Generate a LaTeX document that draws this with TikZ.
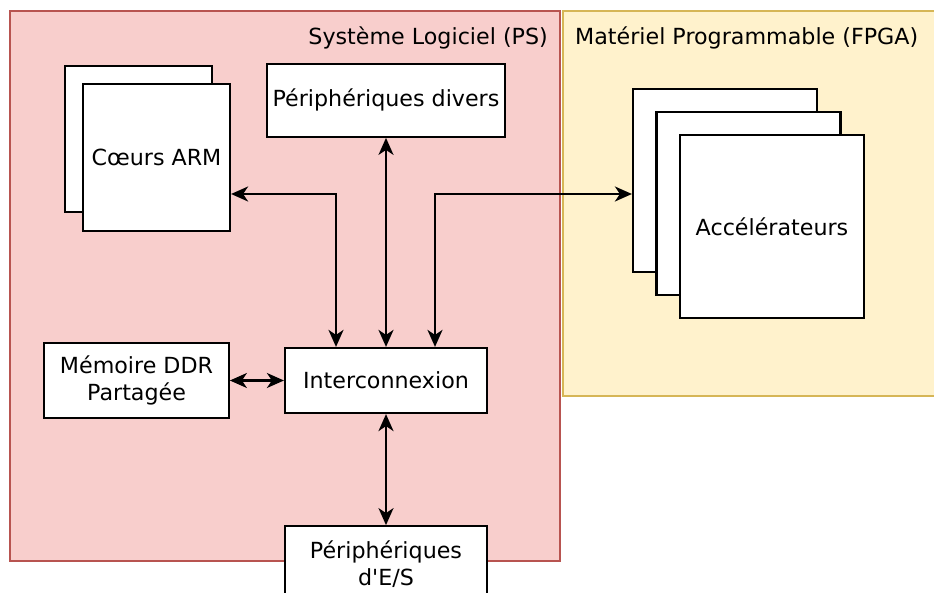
\documentclass[tikz,border=0pt]{standalone}
\usepackage{fontspec}
\setmainfont{DejaVu Sans}[Ligatures=TeXOff]
\usetikzlibrary{arrows.meta, positioning}
\definecolor{psred}{HTML}{F8CECC}
\definecolor{psredline}{HTML}{B85450}
\definecolor{fpgayellow}{HTML}{FFF2CC}
\definecolor{fpgayellowline}{HTML}{D6B656}

\begin{document}
\begin{tikzpicture}[
  x=1pt, y=-1pt,
  font=\fontsize{22.2}{27.5}\selectfont,
  region/.style={rectangle, inner sep=0pt, line width=1.6pt},
  block/.style={rectangle, draw=black, fill=white, line width=2.2pt, align=center, inner sep=0pt},
  link/.style={{Stealth[length=17pt,width=15pt,inset=5pt]}-{Stealth[length=17pt,width=15pt,inset=5pt]}, line width=2.2pt},
  title/.style={inner sep=0pt}
]
  \clip (0,0) rectangle (934,593);
  \fill[white] (0,0) rectangle (934,593);

  % Regions
  \node[region, fill=psred, draw=psredline, minimum width=550pt, minimum height=550pt] (ps) at (285,286) {};
  \node[region, fill=fpgayellow, draw=fpgayellowline, minimum width=390pt, minimum height=385pt, anchor=north west] (fpga) at ([xshift=1.6pt]ps.north east) {};
  \node[title, anchor=base east] (pstitle) at (548,45) {Système Logiciel (PS)};
  \node[title, anchor=base west] (fpgatitle) at (575,45) {Matériel Programmable (FPGA)};

  % ARM cores
  \node[block, minimum width=147pt, minimum height=146pt] (arm2) at (138.5,139) {};
  \node[block, minimum width=147pt, minimum height=147pt, xshift=18pt, yshift=-18.5pt] (arm) at (arm2) {Cœurs ARM};

  % Accelerators
  \node[block, minimum width=184pt, minimum height=183pt] (acc1) at (725,180.5) {};
  \node[block, minimum width=184pt, minimum height=183pt, xshift=23.5pt, yshift=-23pt] (acc2) at (acc1) {};
  \node[block, minimum width=184pt, minimum height=183pt, xshift=23.5pt, yshift=-23pt] (acc3) at (acc2) {Accélérateurs};

  % Interconnect and the rest
  \node[block, minimum width=202pt, minimum height=65pt] (inter) at (386,380.5) {Interconnexion};
  \node[block, minimum width=238pt, minimum height=73pt, above=209pt of inter] (divers) {Périphériques divers};
  \node[block, minimum width=184.5pt, minimum height=75pt, left=54pt of inter] (mem) {Mémoire DDR\\Partagée};
  \node[block, minimum width=202pt, minimum height=76pt, below=111pt of inter] (es) {Périphériques\\d'E/S};

  % Arrows
  \coordinate (armjoin) at (336,194);
  \coordinate (accjoin) at (435,194);
  \draw[link] (arm.east |- armjoin) -- (armjoin) -- (armjoin |- inter.north);
  \draw[link] (divers) -- (inter);
  \draw[link] (accjoin |- inter.north) -- (accjoin) -- (acc1.west |- accjoin);
  \draw[link] (mem) -- (inter);
  \draw[link] (inter) -- (es);
\end{tikzpicture}
\end{document}
